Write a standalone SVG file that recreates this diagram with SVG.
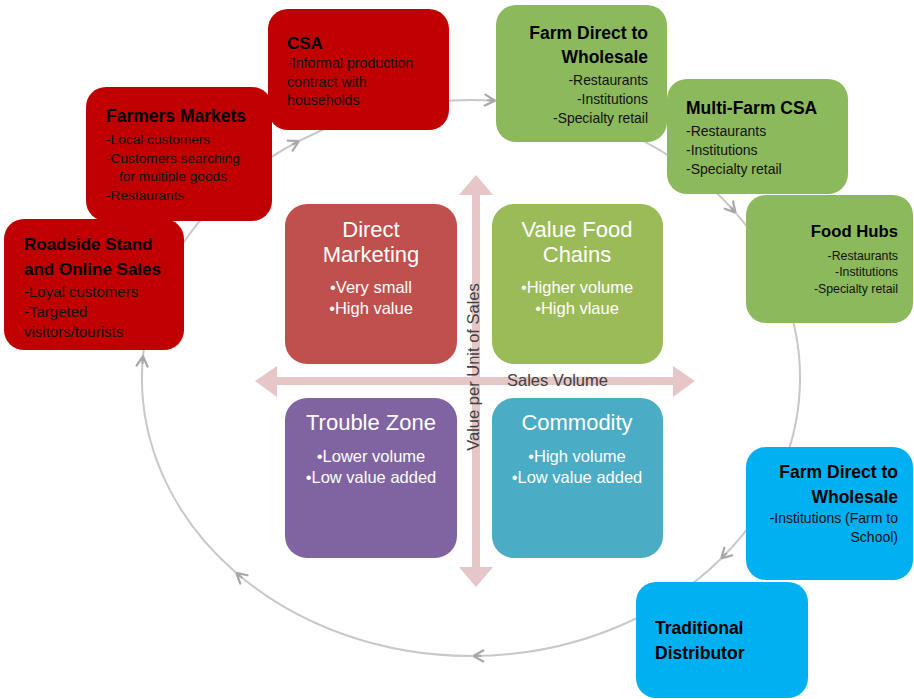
<svg xmlns="http://www.w3.org/2000/svg" width="914" height="699" viewBox="0 0 914 699">
  <style>
    .t { font-family: "Liberation Sans", Arial, sans-serif; fill: #111; }
    .h { font-weight: bold; fill: #000; }
    .q { font-family: "Liberation Sans", Arial, sans-serif; fill: #fff; text-anchor: middle; }
    .qt { font-size: 22px; }
    .qb { font-size: 16.5px; }
    .red { fill: #C00000; }
    .grn { fill: #8CB95B; }
    .blu { fill: #00B0F0; }
    .cyc { fill: none; stroke: #C8C8C8; stroke-width: 2; marker-end: url(#chev); }
    .axis { fill: #E6C6C7; }
  </style>
  <defs>
    <marker id="chev" markerUnits="userSpaceOnUse" viewBox="0 0 14 14" refX="12" refY="7" markerWidth="14" markerHeight="14" orient="auto">
      <path d="M2,1.5 L12,7 L2,12.5 M5,7 L12,7" fill="none" stroke="#A8A8A8" stroke-width="2.2" stroke-linejoin="round" stroke-linecap="round"/>
    </marker>
  </defs>

  <rect width="914" height="699" fill="#fff"/>

  <!-- cycle around the quadrant chart (ellipse cx 471 cy 378 rx 329 ry 278) -->
  <g id="connectors">
    <path class="cyc" d="M143,356.2 A329,278 0 0 1 299.1,141"/>
    <path class="cyc" d="M299.1,141 A329,278 0 0 1 495.1,100.7"/>
    <path class="cyc" d="M495.1,100.7 A329,278 0 0 1 735.5,212.6"/>
    <path class="cyc" d="M735.5,212.6 A329,278 0 0 1 721.2,558.5"/>
    <path class="cyc" d="M721.2,558.5 A329,278 0 0 1 473.3,656"/>
    <path class="cyc" d="M473.3,656 A329,278 0 0 1 236.3,572.9"/>
    <path class="cyc" d="M236.3,572.9 A329,278 0 0 1 143,356.2"/>
  </g>

  <!-- axes -->
  <g id="axes">
    <path class="axis" d="M476,175 L493,195 L480,195 L480,567 L493,567 L476,587 L459,567 L472,567 L472,195 L459,195 Z"/>
    <path class="axis" d="M255,381 L277,366 L277,377 L673,377 L673,366 L695,381 L673,397 L673,385 L277,385 L277,397 Z"/>
  </g>

  <!-- quadrants -->
  <g id="direct-marketing">
    <rect x="285" y="204" width="172" height="160" rx="22" fill="#C0504D"/>
    <text class="q qt" x="371" y="237">Direct</text>
    <text class="q qt" x="371" y="262">Marketing</text>
    <text class="q qb" x="371" y="293">•Very small</text>
    <text class="q qb" x="371" y="314">•High value</text>
  </g>
  <g id="value-food-chains">
    <rect x="492" y="204" width="171" height="160" rx="22" fill="#9BBB59"/>
    <text class="q qt" x="577" y="237">Value Food</text>
    <text class="q qt" x="577" y="262">Chains</text>
    <text class="q qb" x="577" y="293">•Higher volume</text>
    <text class="q qb" x="577" y="314">•High vlaue</text>
  </g>
  <g id="trouble-zone">
    <rect x="285" y="398" width="172" height="160" rx="22" fill="#8064A2"/>
    <text class="q qt" x="371" y="430">Trouble Zone</text>
    <text class="q qb" x="371" y="462">•Lower volume</text>
    <text class="q qb" x="371" y="483">•Low value added</text>
  </g>
  <g id="commodity">
    <rect x="492" y="398" width="171" height="160" rx="22" fill="#4BACC6"/>
    <text class="q qt" x="577" y="430">Commodity</text>
    <text class="q qb" x="577" y="462">•High volume</text>
    <text class="q qb" x="577" y="483">•Low value added</text>
  </g>

  <!-- axis labels -->
  <g id="axis-labels">
    <text class="t" x="507" y="386" font-size="16.5" fill="#404040" style="fill:#404040">Sales Volume</text>
    <text class="t" transform="translate(479,367) rotate(-90)" text-anchor="middle" font-size="16.5" style="fill:#404040">Value per Unit of Sales</text>
  </g>

  <!-- direct marketing channels -->
  <g id="csa">
    <rect class="red" x="268" y="9" width="181" height="121" rx="20"/>
    <text class="t h" x="287" y="49" font-size="17">CSA</text>
    <text class="t" x="287" y="68" font-size="14.2"> -Informal production</text>
    <text class="t" x="287" y="87" font-size="14.2">contract with</text>
    <text class="t" x="287" y="105" font-size="14.2">households</text>
  </g>
  <g id="farmers-markets">
    <rect class="red" x="86" y="87" width="186" height="134" rx="20"/>
    <text class="t h" x="106" y="122" font-size="17.5">Farmers Markets</text>
    <text class="t" x="106" y="144" font-size="13.7">-Local customers</text>
    <text class="t" x="106" y="163" font-size="13.7">-Customers searching</text>
    <text class="t" x="119" y="181" font-size="13.7">for multiple goods</text>
    <text class="t" x="106" y="200" font-size="13.7">-Restaurants</text>
  </g>
  <g id="roadside-stand">
    <rect class="red" x="4" y="219" width="180" height="131" rx="20"/>
    <text class="t h" x="24" y="250" font-size="17">Roadside Stand</text>
    <text class="t h" x="24" y="275" font-size="17">and Online Sales</text>
    <text class="t" x="24" y="297" font-size="15">-Loyal customers</text>
    <text class="t" x="24" y="317" font-size="15">-Targeted</text>
    <text class="t" x="24" y="337" font-size="15">visitors/tourists</text>
  </g>

  <!-- value food chain channels -->
  <g id="farm-direct-wholesale">
    <rect class="grn" x="496" y="5" width="171" height="137" rx="20"/>
    <text class="t h" x="648" y="39" font-size="17.5" text-anchor="end">Farm Direct to</text>
    <text class="t h" x="648" y="63" font-size="17.5" text-anchor="end">Wholesale</text>
    <text class="t" x="648" y="85" font-size="13.9" text-anchor="end">-Restaurants</text>
    <text class="t" x="648" y="104" font-size="13.9" text-anchor="end">-Institutions</text>
    <text class="t" x="648" y="123" font-size="13.9" text-anchor="end">-Specialty retail</text>
  </g>
  <g id="multi-farm-csa">
    <rect class="grn" x="667" y="79" width="181" height="115" rx="20"/>
    <text class="t h" x="686" y="114" font-size="17.5">Multi-Farm CSA</text>
    <text class="t" x="686" y="136" font-size="14">-Restaurants</text>
    <text class="t" x="686" y="155" font-size="14">-Institutions</text>
    <text class="t" x="686" y="174" font-size="14">-Specialty retail</text>
  </g>
  <g id="food-hubs">
    <rect class="grn" x="746" y="195" width="167" height="128" rx="20"/>
    <text class="t h" x="898" y="237" font-size="16.7" text-anchor="end">Food Hubs</text>
    <text class="t" x="898" y="260" font-size="12.3" text-anchor="end">-Restaurants</text>
    <text class="t" x="898" y="276" font-size="12.3" text-anchor="end">-Institutions</text>
    <text class="t" x="898" y="293" font-size="12.3" text-anchor="end">-Specialty retail</text>
  </g>

  <!-- commodity channels -->
  <g id="farm-direct-school">
    <rect class="blu" x="746" y="447" width="167" height="133" rx="20"/>
    <text class="t h" x="898" y="478" font-size="17.5" text-anchor="end">Farm Direct to</text>
    <text class="t h" x="898" y="503" font-size="17.5" text-anchor="end">Wholesale</text>
    <text class="t" x="898" y="523" font-size="14" text-anchor="end">-Institutions (Farm to</text>
    <text class="t" x="898" y="542" font-size="14" text-anchor="end">School)</text>
  </g>
  <g id="traditional-distributor">
    <rect class="blu" x="636" y="582" width="172" height="116" rx="20"/>
    <text class="t h" x="655" y="634" font-size="17.5">Traditional</text>
    <text class="t h" x="655" y="659" font-size="17.5">Distributor</text>
  </g>
</svg>
